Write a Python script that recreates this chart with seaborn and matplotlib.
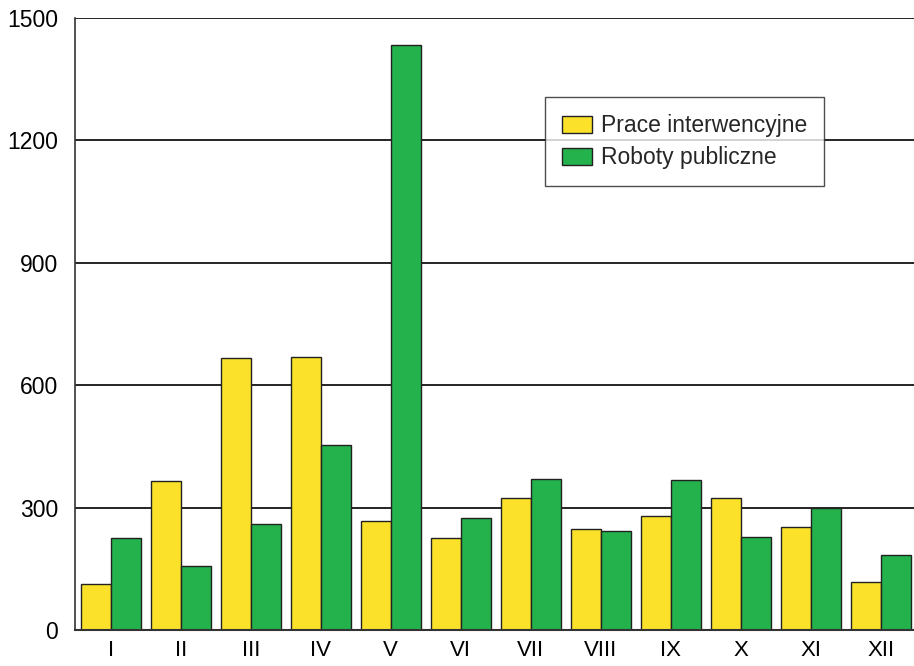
import matplotlib
matplotlib.use("Agg")
import matplotlib.pyplot as plt
import seaborn as sns
import pandas as pd

months = ["I", "II", "III", "IV", "V", "VI", "VII", "VIII", "IX", "X", "XI", "XII"]
prace = [113, 365, 666, 668, 266, 225, 323, 248, 280, 324, 253, 118]
roboty = [225, 156, 259, 454, 1435, 275, 371, 243, 367, 227, 298, 184]
series = ["Prace interwencyjne", "Roboty publiczne"]
yticks = [0, 300, 600, 900, 1200, 1500]

df = pd.DataFrame({
    "miesiac": months * 2,
    "wartosc": prace + roboty,
    "seria": [series[0]] * len(months) + [series[1]] * len(months),
})

sns.set_style("white")
plt.rcParams["font.family"] = ["Liberation Sans", "DejaVu Sans"]

fig = plt.figure(figsize=(9.14, 6.66), dpi=100)
ax = fig.add_axes([0.082, 0.054, 0.918, 0.919])

sns.barplot(data=df, x="miesiac", y="wartosc", hue="seria", order=months,
            hue_order=series, palette=["#fbe12a", "#23b24b"], width=0.86,
            edgecolor="#222222", linewidth=1.0, saturation=1, ax=ax)

ax.set_xlim(-0.51, 11.47)
ax.set_ylim(0, 1500)
ax.set_yticks(yticks)
ax.set_xlabel("")
ax.set_ylabel("")
ax.set_axisbelow(True)
ax.yaxis.grid(True, color="black", linewidth=1.2)
ax.xaxis.grid(False)

for side in ["top", "right"]:
    ax.spines[side].set_visible(False)
ax.spines["left"].set_color("#333333")
ax.spines["left"].set_linewidth(1.2)
ax.spines["bottom"].set_color("#333333")
ax.spines["bottom"].set_linewidth(1.5)

ax.tick_params(axis="y", length=0, pad=12, labelsize=16.5, colors="black")
ax.tick_params(axis="x", length=0, pad=7, labelsize=16, colors="black")

leg = ax.legend(loc="upper left", bbox_to_anchor=(0.56, 0.871), borderaxespad=0,
                fontsize=16.5, frameon=True, fancybox=False, edgecolor="#222222",
                handlelength=1.3, handleheight=0.75, handletextpad=0.4,
                borderpad=0.75, labelspacing=0.4)
leg.get_frame().set_linewidth(1.0)

fig.savefig("out.png", dpi=100)
